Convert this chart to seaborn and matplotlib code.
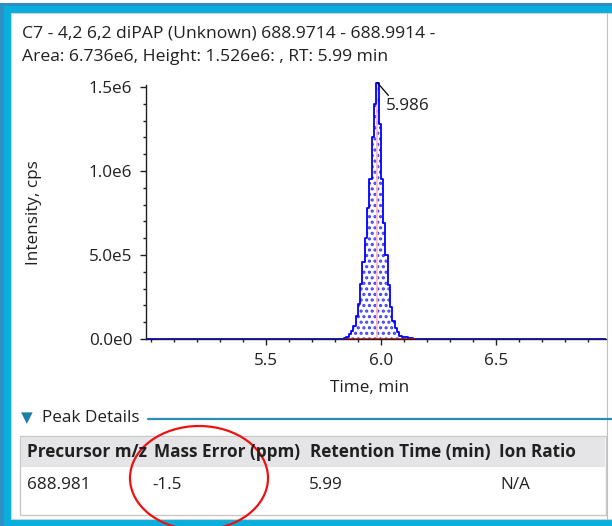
import numpy as np
import pandas as pd
import matplotlib
matplotlib.use("Agg")
import matplotlib.pyplot as plt
from matplotlib.patches import Rectangle, Ellipse
from matplotlib.ticker import MultipleLocator, FixedLocator
import seaborn as sns

# ---------------- data ----------------
title_line1 = "C7 - 4,2 6,2 diPAP (Unknown) 688.9714 - 688.9914 -"
title_line2 = "Area: 6.736e6, Height: 1.526e6: , RT: 5.99 min"

time_min = [4.98, 5.836, 5.846, 5.856, 5.866, 5.876, 5.886, 5.896, 5.906, 5.916,
            5.926, 5.936, 5.946, 5.956, 5.966, 5.976, 5.986, 5.996, 6.006, 6.016,
            6.026, 6.036, 6.046, 6.056, 6.066, 6.076, 6.086, 6.096, 6.106, 6.116,
            6.126, 6.136, 6.146, 6.98]
intensity = [2e3, 2e3, 4e3, 1.2e4, 2.8e4, 4.5e4, 8e4, 1.35e5, 2.1e5, 3.3e5,
             4.6e5, 6.0e5, 7.8e5, 9.5e5, 1.2e6, 1.40e6, 1.526e6, 1.28e6, 9.5e5, 6.9e5,
             5.0e5, 3.2e5, 1.9e5, 1.1e5, 6.5e4, 4.0e4, 1.8e4, 1.2e4, 1.0e4, 9e3,
             8e3, 6e3, 2e3, 2e3]
peak_start, peak_end = 5.846, 6.146
apex_rt = 5.986
apex_height = 1.526e6
apex_label = "5.986"

y_ticks = [0, 5e5, 1e6, 1.5e6]
y_ticklabels = ["0.0e0", "5.0e5", "1.0e6", "1.5e6"]
x_ticks = [5.5, 6.0, 6.5]
x_ticklabels = ["5.5", "6.0", "6.5"]

table_headers = ["Precursor m/z", "Mass Error (ppm)", "Retention Time (min)", "Ion Ratio"]
table_values = ["688.981", "-1.5", "5.99", "N/A"]

df = pd.DataFrame({"Time, min": time_min, "Intensity, cps": intensity})

# ---------------- style ----------------
sns.set_theme(style="white")
plt.rcParams["font.family"] = ["Open Sans", "DejaVu Sans"]
plt.rcParams["hatch.linewidth"] = 1.5
TXT = "#202020"
FS = 12.3

W, H = 612, 526
fig = plt.figure(figsize=(W / 100, H / 100), dpi=100)

# background axes in pixel coordinates
bg = fig.add_axes([0, 0, 1, 1], zorder=0)
bg.set_xlim(0, W)
bg.set_ylim(H, 0)
bg.axis("off")

bg.add_patch(Rectangle((0, 3), W, H - 3, facecolor="#2f8fc3", edgecolor="none"))
bg.add_patch(Rectangle((4, 6), W - 4, H - 6, facecolor="#0aaedd", edgecolor="none"))
bg.add_patch(Rectangle((11, 13), W - 11, 519 - 13, facecolor="white", edgecolor="#c9d3d8", linewidth=0.8))
bg.plot([607, 607], [13, 519], color="#c0c0c0", lw=0.8)

bg.text(22, 33, title_line1, fontsize=12.6, color=TXT, va="center", ha="left")
bg.text(22, 57, title_line2, fontsize=12.6, color=TXT, va="center", ha="left")

# Peak details section
bg.text(21, 418, "\u25BC", fontsize=11, color="#1c7fa6", va="center", ha="left",
        family=["DejaVu Sans"])
bg.text(42, 418, "Peak Details", fontsize=FS, color=TXT, va="center", ha="left")
bg.plot([148, W], [419, 419], color="#2a8db5", lw=1.6)

bg.add_patch(Rectangle((20, 436), 586, 79, facecolor="white", edgecolor="#c8c8c8", lw=1))
bg.add_patch(Rectangle((21, 437), 584, 30, facecolor="#e5e5e8", edgecolor="none"))
col_x = [27, 154, 310, 499]
val_x = [27, 152, 309, 500]
for i, (x, vx, h, v) in enumerate(zip(col_x, val_x, table_headers, table_values)):
    th = bg.text(x, 452, h, fontsize=FS, fontweight="bold", color=TXT, va="center", ha="left")
    if i + 1 < len(col_x):
        clip = Rectangle((x - 2, 437), col_x[i + 1] - x, 30, transform=bg.transData)
        th.set_clip_path(clip)
    bg.text(vx, 485, v, fontsize=FS, color=TXT, va="center", ha="left")

bg.add_patch(Ellipse((199, 478), 138, 104, facecolor="none", edgecolor="#ee1111", lw=1.6))

# ---------------- chromatogram axes ----------------
left, right, bottom_px, top_px = 146, 606, 339, 82
ax = fig.add_axes([left / W, 1 - bottom_px / H, (right - left) / W, (bottom_px - top_px) / H], zorder=1)
ax.patch.set_alpha(0)

t = np.array(time_min)
v = np.array(intensity)
mask = (t >= peak_start) & (t <= peak_end)
ax.fill_between(t, v, 0, where=mask, step="mid", facecolor="none",
                edgecolor="#4040ff", hatch="...", linewidth=0)

ax.axvline(apex_rt, color="#ffb8b8", lw=1.2, zorder=1)
sns.lineplot(data=df, x="Time, min", y="Intensity, cps", ax=ax, color="#0000ff",
             lw=1.3, drawstyle="steps-mid", estimator=None, sort=False, zorder=3)
ax.plot([peak_start, peak_end], [0, 0], color="#dd0000", lw=1.8, zorder=4)

ax.plot([apex_rt, 6.034], [apex_height, 1.45e6], color="black", lw=0.9, zorder=5)
ax.text(6.021, 1.39e6, apex_label, fontsize=FS, color=TXT, va="center", ha="left")

ax.set_xlim(4.98, 6.98)
ax.set_ylim(0, 1.53e6)

for s in ["top", "right"]:
    ax.spines[s].set_visible(False)
for s in ["left", "bottom"]:
    ax.spines[s].set_color("#202020")
    ax.spines[s].set_linewidth(1.0)
ax.spines["left"].set_bounds(0, 1.515e6)

ax.yaxis.set_major_locator(FixedLocator(y_ticks))
ax.set_yticklabels(y_ticklabels)
ax.yaxis.set_minor_locator(MultipleLocator(1e5))
ax.xaxis.set_major_locator(FixedLocator(x_ticks))
ax.set_xticklabels(x_ticklabels)
ax.xaxis.set_minor_locator(MultipleLocator(0.1))

ax.tick_params(axis="both", which="major", direction="out", length=4, width=1,
               color="#202020", labelsize=FS, labelcolor=TXT)
ax.tick_params(axis="y", which="major", pad=6)
ax.tick_params(axis="x", which="major", pad=6)
ax.tick_params(axis="both", which="minor", direction="out", length=2.5, width=1, color="#202020")
ax.tick_params(left=True, bottom=True, which="both")

ax.set_xlabel("Time, min", fontsize=FS, color=TXT)
ax.set_ylabel("Intensity, cps", fontsize=FS, color=TXT)
ax.xaxis.set_label_coords(0.487, -0.16)
ax.yaxis.set_label_coords(-0.225, 0.49)

fig.savefig("out.png", dpi=100)
